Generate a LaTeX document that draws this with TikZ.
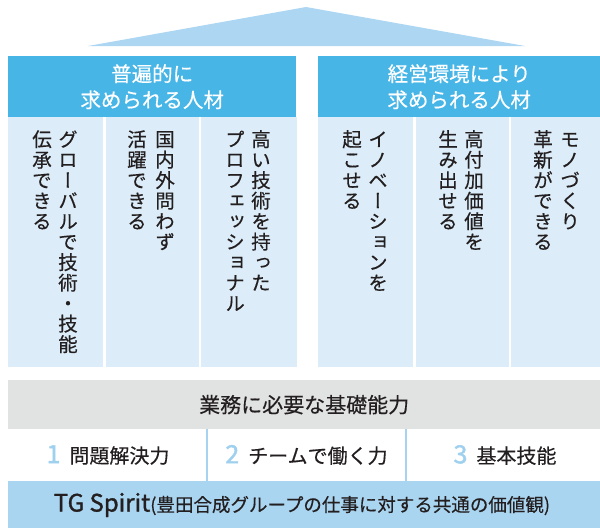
\documentclass[tikz,border=0pt]{standalone}
\usepackage{fontspec}
\setmainfont[FakeBold=0.4]{Noto Sans CJK JP}
\newfontfamily\vfontJ[RawFeature=+vert,FakeBold=0.4]{Noto Sans CJK JP}
\newfontfamily\boldJ[FakeBold=1.3]{Noto Sans CJK JP}
\newfontfamily\numJ[FakeBold=1.8]{Noto Sans CJK JP}
\definecolor{hdrblue}{HTML}{48B5E7}
\definecolor{colfill}{HTML}{DCEDF9}
\definecolor{roofblue}{HTML}{ADD6F2}
\definecolor{tgblue}{HTML}{AAD5F1}
\definecolor{graybg}{HTML}{E1E2E2}
\definecolor{sepblue}{HTML}{A8D3F0}
\definecolor{numblue}{HTML}{9FD0EE}
\definecolor{txt}{HTML}{231F20}
\makeatletter
\newcommand\vtxt[1]{\vbox{\offinterlineskip\vfontJ\fontsize{19.5}{20.5}\selectfont\@vtxt#1\@nil}}
\def\@vtxt#1{\ifx#1\@nil\else\hbox to 20.5pt{\vrule height 17.4pt depth 3.1pt width 0pt\hss\smash{#1}\hss}\expandafter\@vtxt\fi}
\makeatother
\newcommand\numc[1]{{\numJ\fontsize{25}{25}\selectfont\color{numblue}#1}}
\begin{document}
\begin{tikzpicture}[x=1pt,y=-1pt,
  header/.style={fill=hdrblue,text=white,anchor=north west,inner sep=0pt,align=center,
    font=\fontsize{20.5}{26}\selectfont},
  colbox/.style={fill=colfill,anchor=north west,inner sep=0pt},
  vt/.style={anchor=north,inner sep=0pt,text=txt},
  graybar/.style={fill=graybg,anchor=north west,inner sep=0pt,text=txt,font=\fontsize{21}{24}\selectfont},
  cell/.style={inner sep=0pt,text=txt,font=\fontsize{20}{24}\selectfont},
  sep/.style={draw=sepblue,line width=1.8pt},
  tgbar/.style={fill=tgblue,anchor=north west,inner sep=0pt,text=txt}]
\useasboundingbox (0,0) rectangle (600,528);
% roof
\fill[roofblue] (306,7) -- (525,46) -- (88,46) -- cycle;
% headers
\node (h1) [header,minimum width=288,minimum height=61] at (8,56) {普遍的に\\求められる人材};
\node (h2) [header,minimum width=282,minimum height=61] at (318,56) {経営環境により\\求められる人材};
% columns
\node (c1) [colbox,minimum width=95,minimum height=250] at (8,117) {};
\node (c2) [colbox,minimum width=93,minimum height=250] at (105.5,117) {};
\node (c3) [colbox,minimum width=96,minimum height=250] at (200.5,117) {};
\node (c4) [colbox,minimum width=95,minimum height=250] at (318,117) {};
\node (c5) [colbox,minimum width=93,minimum height=250] at (415.5,117) {};
\node (c6) [colbox,minimum width=89,minimum height=250] at (511,117) {};
% vertical texts
\node (t1a) [vt] at (68,129) {\vtxt{グローバルで技術・技能}};
\node (t1b) [vt] at (42,129) {\vtxt{伝承できる}};
\node (t2a) [vt] at (165,129) {\vtxt{国内外問わず}};
\node (t2b) [vt] at (137,129) {\vtxt{活躍できる}};
\node (t3a) [vt] at (261,129) {\vtxt{高い技術を持った}};
\node (t3b) [vt] at (235,129) {\vtxt{プロフェッショナル}};
\node (t4a) [vt] at (378,129) {\vtxt{イノベーションを}};
\node (t4b) [vt] at (352,129) {\vtxt{起こせる}};
\node (t5a) [vt] at (474,129) {\vtxt{高付加価値を}};
\node (t5b) [vt] at (448,129) {\vtxt{生み出せる}};
\node (t6a) [vt] at (570,129) {\vtxt{モノづくり}};
\node (t6b) [vt] at (543,129) {\vtxt{革新ができる}};
% basic abilities
\node (basic) [graybar,minimum width=592,minimum height=49] at (8,380) {業務に必要な基礎能力};
\coordinate (s1t) at (207,429);
\coordinate (s1b) at (207,481);
\coordinate (s2t) at (406,429);
\coordinate (s2b) at (406,481);
\draw[sep] (s1t) -- (s1b);
\draw[sep] (s2t) -- (s2b);
\node (n1) [cell] at (108,455) {\numc{1}\hspace{9pt}問題解決力};
\node (n2) [cell] at (306.5,455) {\numc{2}\hspace{9pt}チームで働く力};
\node (n3) [cell] at (505,455) {\numc{3}\hspace{9pt}基本技能};
% TG spirit
\node (tg) [tgbar,minimum width=592,minimum height=47] at (8,481) {};
\node (tgt) [inner sep=0pt,text=txt] at (302,505) {{\boldJ\fontsize{24}{26}\selectfont TG Spirit}{\fontsize{18.5}{22}\selectfont(豊田合成グループの仕事に対する共通の価値観)}};
\end{tikzpicture}
\end{document}
